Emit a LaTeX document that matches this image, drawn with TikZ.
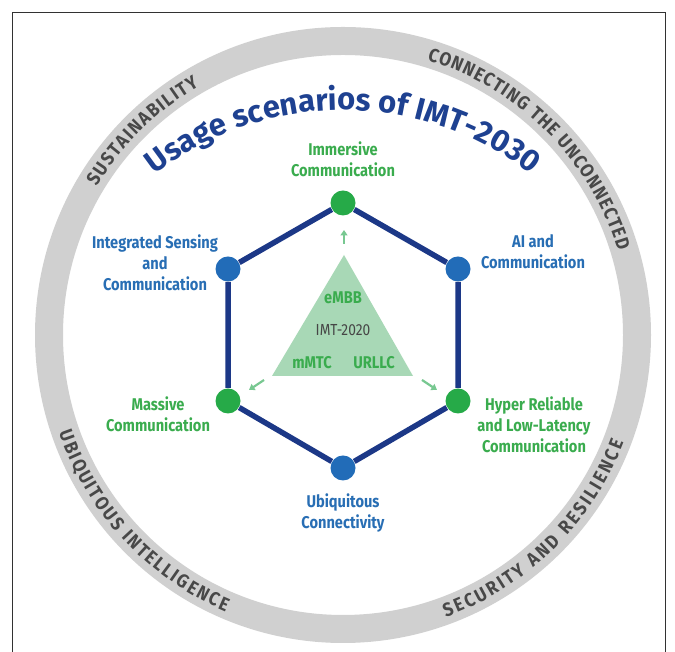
\documentclass[tikz,border=0pt]{standalone}
\usepackage{fontspec}
\setmainfont{Fira Sans}
\newfontfamily\condfont[FakeStretch=0.86]{Fira Sans}
\newfontfamily\ringfam[FakeStretch=0.9]{Fira Sans}
\usetikzlibrary{decorations.text,arrows.meta}

\definecolor{ringgray}{RGB}{208,208,208}
\definecolor{ringink}{RGB}{72,72,72}
\definecolor{navy}{RGB}{28,56,135}
\definecolor{titleblue}{RGB}{30,65,145}
\definecolor{nodeblue}{RGB}{34,108,184}
\definecolor{nodegreen}{RGB}{38,170,72}
\definecolor{labelblue}{RGB}{40,110,180}
\definecolor{labelgreen}{RGB}{58,172,78}
\definecolor{mint}{RGB}{168,216,182}
\definecolor{arrowgreen}{RGB}{120,200,145}
\definecolor{framegray}{RGB}{50,50,50}
\definecolor{imtgray}{RGB}{70,70,70}

\newcommand\ringfont{\color{ringink}\ringfam\bfseries\fontsize{19}{19}\selectfont}
\newcommand\titlefont{\color{titleblue}\bfseries\fontsize{31}{31}\selectfont}

\begin{document}
\begin{tikzpicture}[x=1pt,y=1pt,
  hexnode/.style={circle,inner sep=0pt,minimum size=25pt,outer sep=0.5pt},
  hexblue/.style={hexnode,fill=nodeblue},
  hexgreen/.style={hexnode,fill=nodegreen},
  hexedge/.style={navy,line width=5.5pt},
  lbl/.style={align=center,inner sep=0pt,font=\condfont\bfseries\fontsize{17}{21}\selectfont},
  lblblue/.style={lbl,text=labelblue},
  lblgreen/.style={lbl,text=labelgreen},
  flowarrow/.style={arrowgreen,line width=2.2pt,-{Triangle[length=5.5pt,width=7pt]}},
  ringlabel/.style={decorate,decoration={text along path,text align=fit to path,text={|\ringfont|#1}}}
]
\useasboundingbox (0,0) rectangle (675,652);
\fill[white] (0,0) rectangle (675,652);

% outer frame (open at the bottom)
\draw[framegray,line width=1pt] (12,0) -- (12,639) -- (665,639) -- (665,0);

% grey ring
\draw[ringgray,line width=28pt] (343,317) circle[radius=294];

% ring captions
\path[ringlabel={SUSTAINABILITY},shift={(343,317)}]
  (149:287.5) arc[start angle=149,end angle=120,radius=287.5];
\path[ringlabel={CONNECTING THE UNCONNECTED},shift={(343,317)}]
  (73:287.5) arc[start angle=73,end angle=17,radius=287.5];
\path[ringlabel={UBIQUITOUS INTELLIGENCE},shift={(343,317)}]
  (199:300.5) arc[start angle=199,end angle=247,radius=300.5];
\path[ringlabel={SECURITY AND RESILIENCE},shift={(343,317)}]
  (-70:300.5) arc[start angle=-70,end angle=-21,radius=300.5];

% title on an arc
\path[decorate,decoration={text along path,text align=center,
      text={|\titlefont|Usage scenarios of IMT-2030}},shift={(343,236)}]
  (135:306) arc[start angle=135,end angle=45,radius=306];

% central IMT-2020 triangle
\coordinate (tl) at (272,276);
\coordinate (tt) at (344,397);
\coordinate (tr) at (413,276);
\fill[mint] (tl) -- (tt) -- (tr) -- cycle;
\node[lbl,text=labelgreen] (embb) at (343,354) {eMBB};
\node[inner sep=0pt,text=imtgray,font=\condfont\fontsize{16}{18}\selectfont] (imt) at (343,322) {IMT-2020};
\node[lbl,text=labelgreen] (mmtc) at (312,289) {mMTC};
\node[lbl,text=labelgreen] (urllc) at (374,289) {URLLC};

% small arrows out of the triangle
\coordinate (a1s) at (344,408); \coordinate (a1e) at (344,422);
\coordinate (a2s) at (264,272); \coordinate (a2e) at (249,262);
\coordinate (a3s) at (422,272); \coordinate (a3e) at (437,262);
\draw[flowarrow] (a1s) -- (a1e);
\draw[flowarrow] (a2s) -- (a2e);
\draw[flowarrow] (a3s) -- (a3e);

% hexagon of usage scenarios
\node[hexgreen] (imm) at (343,449) {};
\node[hexblue] (ai) at (458,383) {};
\node[hexgreen] (hrllc) at (458,251) {};
\node[hexblue] (ubi) at (343,184) {};
\node[hexgreen] (mass) at (228,251) {};
\node[hexblue] (isac) at (228,383) {};
\draw[hexedge] (imm) -- (ai) -- (hrllc) -- (ubi) -- (mass) -- (isac) -- (imm);

% scenario labels
\node[lblgreen] (immtxt) at (343,493) {Immersive\\Communication};
\node[lblblue] (aitxt) at (533,400) {AI and\\Communication};
\node[lblgreen] (hrllctxt) at (534,227) {Hyper Reliable\\and Low-Latency\\Communication};
\node[lblblue] (ubitxt) at (343,139) {Ubiquitous\\Connectivity};
\node[lblgreen] (masstxt) at (158,238) {Massive\\Communication};
\node[lblblue] (isactxt) at (155,389) {Integrated Sensing\\and\\Communication};
\end{tikzpicture}
\end{document}
